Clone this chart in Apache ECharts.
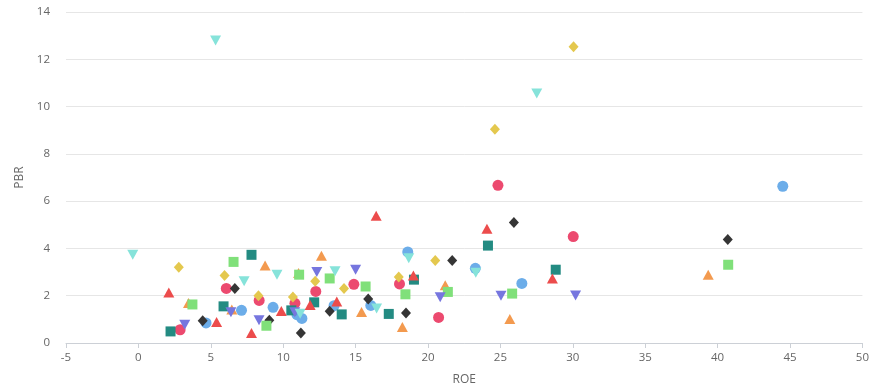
<!DOCTYPE html>
<html><head><meta charset="utf-8">
<script src="https://cdn.jsdelivr.net/npm/echarts@6/dist/echarts.min.js"></script>
<style>html,body{margin:0;padding:0;background:#fff}#c{width:872px;height:392px}</style>
</head><body><div id="c"></div>
<script>
var xTicks = [-5, 0, 5, 10, 15, 20, 25, 30, 35, 40, 45, 50];
var yTicks = [0, 2, 4, 6, 8, 10, 12, 14];
var xName = 'ROE';
var yName = 'PBR';

var pinkCircle = [[2.88,0.56],[6.07,2.31],[8.34,1.80],[10.81,1.68],[12.25,2.18],[14.88,2.48],[18.03,2.50],[20.73,1.08],[24.83,6.67],[30.03,4.50]];
var blueCircle = [[4.67,0.85],[7.12,1.38],[9.30,1.51],[10.95,1.20],[11.29,1.04],[13.51,1.58],[16.05,1.59],[18.60,3.85],[23.27,3.16],[26.48,2.52],[44.5,6.63]];
var darkDiamond = [[4.44,0.94],[6.66,2.31],[9.04,0.96],[11.22,0.42],[13.21,1.34],[15.87,1.86],[18.48,1.27],[21.67,3.49],[25.93,5.10],[40.7,4.38]];
var orangeTriangle = [[3.46,1.69],[6.45,1.42],[8.75,3.28],[11.06,2.96],[12.64,3.69],[15.41,1.31],[18.23,0.68],[21.19,2.44],[25.65,1.02],[39.35,2.89]];
var greenSquare = [[3.73,1.63],[6.57,3.43],[8.84,0.73],[11.1,2.89],[13.21,2.73],[15.69,2.39],[18.44,2.06],[21.37,2.16],[25.81,2.09],[40.73,3.31]];
var tealSquare = [[2.22,0.49],[5.88,1.55],[7.81,3.73],[10.56,1.38],[12.14,1.72],[14.04,1.21],[17.29,1.23],[19.03,2.68],[24.14,4.12],[28.82,3.10]];
var yellowDiamond = [[2.79,3.20],[5.95,2.85],[8.29,2.00],[10.67,1.95],[12.21,2.61],[14.20,2.31],[17.98,2.79],[20.50,3.49],[24.62,9.04],[30.05,12.53]];
var purpleTriDown = [[3.20,0.77],[6.39,1.30],[8.33,0.96],[10.8,1.30],[12.32,3.00],[15.0,3.10],[20.84,1.93],[25.04,2.00],[30.19,2.01]];
var cyanTriDown = [[-0.39,3.73],[5.33,12.79],[7.30,2.61],[9.57,2.89],[11.17,1.24],[13.58,3.03],[16.45,1.46],[18.67,3.58],[23.3,2.97],[27.51,10.55]];
var redTriangle = [[2.10,2.14],[5.40,0.89],[7.81,0.42],[9.87,1.35],[11.86,1.61],[13.7,1.76],[16.42,5.38],[18.99,2.85],[24.07,4.83],[28.59,2.73]];

var triDown = 'path://M0,0 L10,0 L5,9 Z';
var seriesDefs = [
  {name:'A', data: pinkCircle, symbol:'circle', size:11, color:'#ec4a6f'},
  {name:'B', data: blueCircle, symbol:'circle', size:11, color:'#6cade9'},
  {name:'C', data: darkDiamond, symbol:'diamond', size:[10,11], color:'#353535'},
  {name:'D', data: orangeTriangle, symbol:'triangle', size:[11,10], color:'#f39a4f'},
  {name:'E', data: greenSquare, symbol:'rect', size:10, color:'#80e07a'},
  {name:'F', data: tealSquare, symbol:'rect', size:10, color:'#238b82'},
  {name:'G', data: yellowDiamond, symbol:'diamond', size:[10,11], color:'#e4c84e'},
  {name:'H', data: purpleTriDown, symbol:triDown, size:[11,10], color:'#7676df'},
  {name:'I', data: cyanTriDown, symbol:triDown, size:[11,10], color:'#86e3da'},
  {name:'J', data: redTriangle, symbol:'triangle', size:[11,10], color:'#ec4c4c'}
];

var font = "'Open Sans', 'Noto Sans', sans-serif";
var chart = echarts.init(document.getElementById('c'), null, {renderer:'canvas'});
chart.setOption({
  animation: false,
  grid: {left: 66, right: 7, top: 12, bottom: 49},
  xAxis: {
    type: 'value', min: xTicks[0], max: xTicks[xTicks.length-1], interval: 5,
    name: xName, nameLocation: 'middle', nameGap: 31,
    nameTextStyle: {color:'#666', fontSize: 12, fontFamily: font},
    axisLine: {show: true, lineStyle: {color:'#ccd0d6'}},
    axisTick: {show: true, length: 5, lineStyle: {color:'#ccd0d6'}},
    axisLabel: {color:'#666', fontSize: 11.5, fontFamily: font, margin: 9},
    splitLine: {show: false}
  },
  yAxis: {
    type: 'value', min: yTicks[0], max: yTicks[yTicks.length-1], interval: 2,
    name: yName, nameLocation: 'middle', nameGap: 38, nameRotate: 90,
    nameTextStyle: {color:'#666', fontSize: 12, fontFamily: font},
    axisLine: {show: false}, axisTick: {show: false},
    axisLabel: {color:'#666', fontSize: 11.5, fontFamily: font, margin: 16},
    splitLine: {show: true, lineStyle: {color:'#e6e6e6'}}
  },
  series: seriesDefs.map(function(s){
    return {type:'scatter', name:s.name, data:s.data, symbol:s.symbol, symbolSize:s.size,
      itemStyle:{color:s.color, opacity:1}};
  })
});
</script></body></html>
